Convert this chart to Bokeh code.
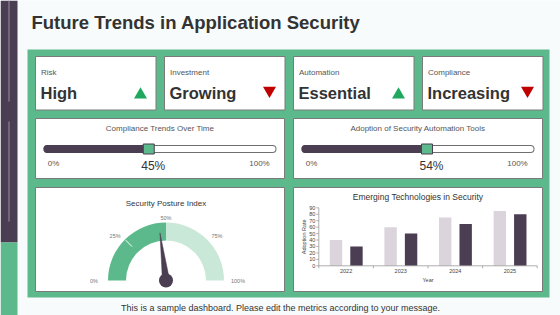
import math
from bokeh.plotting import figure
from bokeh.models import Range1d
from bokeh.core.properties import value
from bokeh.embed import file_html
from bokeh.resources import INLINE

# ---------------- data ----------------
title_text = "Future Trends in Application Security"
kpi_labels = ["Risk", "Investment", "Automation", "Compliance"]
kpi_values = ["High", "Growing", "Essential", "Increasing"]
kpi_trends = ["up", "down", "up", "down"]

slider_titles = ["Compliance Trends Over Time", "Adoption of Security Automation Tools"]
slider_values = [45, 54]
slider_min_label = "0%"
slider_max_label = "100%"

gauge_title = "Security Posture Index"
gauge_value = 46
gauge_band_edges = [0, 50, 100]
gauge_ticks = [0, 25, 50, 75, 100]

bar_title = "Emerging Technologies in Security"
years = ["2022", "2023", "2024", "2025"]
series_light = [40, 60, 75, 85]
series_dark = [30, 50, 65, 80]
bar_y_ticks = [0, 10, 20, 30, 40, 50, 60, 70, 80, 90]
bar_y_label = "Adoption Rate"
bar_x_label = "Year"

footer_text = "This is a sample dashboard. Please edit the metrics according to your message."

# ---------------- style ----------------
W, H = 560, 315
FONT = value("Liberation Sans")
GREEN = "#5cb98b"
DARK = "#4b3d52"
LIGHT_BAR = "#dcd4dc"
LIGHT_GREEN = "#c9e8d7"
BG = "#f8fbfb"
BORDER = "#7a7a7a"
TXT = "#333333"
SUB = "#555555"
UP_COL = "#1fa85e"
DOWN_COL = "#c00000"


def range_from(v0, p0, v1, p1, size):
    s = (p1 - p0) / (v1 - v0)
    a = v0 - p0 / s
    return Range1d(a, a + size / s), s


p = figure(width=W, height=H, x_range=Range1d(0, W), y_range=Range1d(H, 0),
           output_backend="svg", toolbar_location=None, min_border=0,
           x_axis_location=None, y_axis_location=None)
p.grid.visible = False
p.outline_line_color = None
p.background_fill_color = BG
p.border_fill_color = BG

# bar chart ranges and gauge range
bx, sx = range_from(-0.5, 318.3, len(years) - 0.5, 536.7, W)
by, sy = range_from(0, H - 265.3, 90, H - 207.3, H)
p.extra_x_ranges = {"bx": bx}
p.extra_y_ranges = {"by": by, "gy": Range1d(0, H)}

# ---------------- sidebar ----------------
p.quad(left=[0], right=[17], top=[0], bottom=[242], fill_color=DARK, line_color=None)
p.quad(left=[0], right=[17], top=[242], bottom=[H], fill_color=GREEN, line_color=None)
p.segment(x0=[8.5, 8.5], y0=[0, 121], x1=[8.5, 8.5], y1=[101, 221],
          line_color="#8e8296", line_width=1.2)

# ---------------- title ----------------
p.text(x=[31], y=[21.6], text=[title_text], text_font=FONT, text_font_size="18.5px",
       text_font_style="bold", text_color=TXT, text_baseline="middle")

# ---------------- panel and cards ----------------
p.quad(left=[27], right=[549], top=[49], bottom=[297], fill_color=GREEN, line_color=None)

kpi_left = [35, 164, 293, 422]
p.quad(left=kpi_left, right=[l + 120.5 for l in kpi_left], top=56, bottom=109.5,
       fill_color="white", line_color=BORDER, line_width=1)
wide_left = [35, 293]
wide_right = [284, 542]
p.quad(left=wide_left, right=wide_right, top=118, bottom=178,
       fill_color="white", line_color=BORDER, line_width=1)
p.quad(left=wide_left, right=wide_right, top=187, bottom=291,
       fill_color="white", line_color=BORDER, line_width=1)

# ---------------- KPI cards ----------------
p.text(x=[l + 5.5 for l in kpi_left], y=72.2, text=kpi_labels, text_font=FONT,
       text_font_size="8px", text_color=SUB, text_baseline="middle")
p.text(x=[l + 5 for l in kpi_left], y=92, text=kpi_values, text_font=FONT,
       text_font_size="16.5px", text_font_style="bold", text_color=TXT,
       text_baseline="middle")
markers = ["triangle" if t == "up" else "inverted_triangle" for t in kpi_trends]
colors = [UP_COL if t == "up" else DOWN_COL for t in kpi_trends]
tri_y = [94.2 if t == "up" else 90.0 for t in kpi_trends]
p.scatter(x=[l + 105 for l in kpi_left], y=tri_y, marker=markers, size=13,
          fill_color=colors, line_color=None)

# ---------------- sliders ----------------
track_l = [l + 12 for l in wide_left]
track_r = [r - 12 for r in wide_right]
thumb_x = [a + v / 100 * (b - a) for a, b, v in zip(track_l, track_r, slider_values)]
ty = 148.5
p.segment(x0=track_l, y0=ty, x1=track_r, y1=ty, line_width=8, line_color="#6f6f6f", line_cap="round")
p.segment(x0=track_l, y0=ty, x1=track_r, y1=ty, line_width=6, line_color="white", line_cap="round")
p.segment(x0=track_l, y0=ty, x1=thumb_x, y1=ty, line_width=8, line_color=DARK, line_cap="round")
p.rect(x=thumb_x, y=ty, width=11, height=10, fill_color=GREEN, line_color=DARK, line_width=1)
p.text(x=[(a + b) / 2 for a, b in zip(wide_left, wide_right)], y=128, text=slider_titles,
       text_font=FONT, text_font_size="8px", text_color=SUB, text_align="center",
       text_baseline="middle")
p.text(x=[a + 6 for a in track_l], y=162.5, text=[slider_min_label] * 2, text_font=FONT,
       text_font_size="8px", text_color=SUB, text_align="center", text_baseline="middle")
p.text(x=[b - 13 for b in track_r], y=162.5, text=[slider_max_label] * 2, text_font=FONT,
       text_font_size="8px", text_color=SUB, text_align="center", text_baseline="middle")
p.text(x=[t + 4.5 for t in thumb_x], y=165, text=[f"{v}%" for v in slider_values],
       text_font=FONT, text_font_size="12px", text_color=TXT, text_align="center",
       text_baseline="middle")

# ---------------- gauge ----------------
gcx, gcy = 165.5, H - 280.0


def ang(v):
    return math.pi * (1 - v / 100)


p.annular_wedge(x=[gcx, gcx], y=[gcy, gcy], inner_radius=40, outer_radius=58,
                start_angle=[ang(gauge_band_edges[1]), ang(gauge_band_edges[2])],
                end_angle=[ang(gauge_band_edges[0]), ang(gauge_band_edges[1])],
                direction="anticlock", fill_color=[GREEN, LIGHT_GREEN], line_color=None,
                y_range_name="gy")
a25 = ang(gauge_ticks[1])
p.segment(x0=[gcx + 48 * math.cos(a25)], y0=[gcy + 48 * math.sin(a25)],
          x1=[gcx + 57 * math.cos(a25)], y1=[gcy + 57 * math.sin(a25)],
          line_color="white", line_width=1, y_range_name="gy")
na = ang(gauge_value)
perp = na + math.pi / 2
p.patch(x=[gcx + 48 * math.cos(na), gcx + 3.6 * math.cos(perp), gcx - 3.6 * math.cos(perp)],
        y=[gcy + 48 * math.sin(na), gcy + 3.6 * math.sin(perp), gcy - 3.6 * math.sin(perp)],
        fill_color=DARK, line_color=DARK, line_width=0.5, y_range_name="gy")
p.circle(x=[gcx], y=[gcy], radius=7, fill_color=DARK, line_color=None, y_range_name="gy")
p.text(x=[gcx + 72 * math.cos(ang(t)) for t in gauge_ticks],
       y=[gcy + 63 * math.sin(ang(t)) for t in gauge_ticks],
       text=[f"{t}%" for t in gauge_ticks], text_font=FONT, text_font_size="5.5px",
       text_color="#777777", text_align="center", text_baseline="middle", y_range_name="gy")
p.text(x=[gcx], y=[203], text=[gauge_title], text_font=FONT, text_font_size="8px",
       text_color=TXT, text_align="center", text_baseline="middle")

# ---------------- bar chart ----------------
idx = list(range(len(years)))
p.vbar(x=[i - 0.185 for i in idx], width=0.227, top=series_light, bottom=0,
       fill_color=LIGHT_BAR, line_color=None, x_range_name="bx", y_range_name="by")
p.vbar(x=[i + 0.19 for i in idx], width=0.227, top=series_dark, bottom=0,
       fill_color=DARK, line_color=None, x_range_name="bx", y_range_name="by")
AX = "#9a9a9a"
x_lo, x_hi = -0.5, len(years) - 0.5
p.segment(x0=[x_lo], y0=[0], x1=[x_hi], y1=[0], line_color=AX, line_width=0.8,
          x_range_name="bx", y_range_name="by")
p.segment(x0=[x_lo], y0=[0], x1=[x_lo], y1=[bar_y_ticks[-1]], line_color=AX, line_width=0.8,
          x_range_name="bx", y_range_name="by")
bounds = [x_lo + k for k in range(len(years) + 1)]
p.segment(x0=bounds, y0=0, x1=bounds, y1=-2.5 / sy, line_color=AX, line_width=0.8,
          x_range_name="bx", y_range_name="by")
p.segment(x0=x_lo, y0=bar_y_ticks, x1=x_lo - 2.5 / sx, y1=bar_y_ticks, line_color=AX,
          line_width=0.8, x_range_name="bx", y_range_name="by")
p.text(x=x_lo, y=bar_y_ticks, text=[str(t) for t in bar_y_ticks], x_offset=-3.5,
       text_font=FONT, text_font_size="5.5px", text_color="#444444", text_align="right",
       text_baseline="middle", x_range_name="bx", y_range_name="by")
p.text(x=idx, y=0, text=years, y_offset=3.5, text_font=FONT, text_font_size="5.5px",
       text_color="#444444", text_align="center", text_baseline="top",
       x_range_name="bx", y_range_name="by")
p.text(x=[(x_lo + x_hi) / 2], y=[0], text=[bar_x_label], y_offset=11, text_font=FONT,
       text_font_size="5.5px", text_color="#444444", text_align="center", text_baseline="top",
       x_range_name="bx", y_range_name="by")
p.text(x=[x_lo], y=[bar_y_ticks[-1] / 2], text=[bar_y_label], x_offset=-15, angle=math.pi / 2,
       text_font=FONT, text_font_size="5.5px", text_color="#444444", text_align="center",
       text_baseline="middle", x_range_name="bx", y_range_name="by")
p.text(x=[417.5], y=[196], text=[bar_title], text_font=FONT, text_font_size="8.5px",
       text_color=TXT, text_align="center", text_baseline="middle")

# ---------------- footer ----------------
p.text(x=[280], y=[307], text=[footer_text], text_font=FONT, text_font_size="9px",
       text_color=TXT, text_align="center", text_baseline="middle")

open("out.html", "w").write(file_html(p, INLINE))
